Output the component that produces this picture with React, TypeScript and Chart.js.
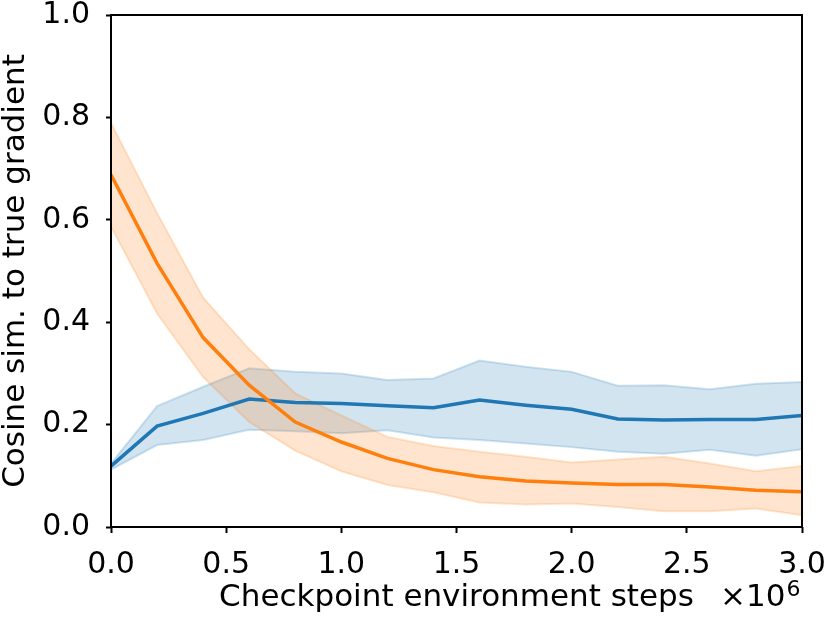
import React, { useEffect, useRef } from "react";
import { Chart, registerables } from "chart.js";

Chart.register(...registerables);

// checkpoint steps, in units of 1e6
const steps = [0, 0.2, 0.4, 0.6, 0.8, 1.0, 1.2, 1.4, 1.6, 1.8, 2.0, 2.2, 2.4, 2.6, 2.8, 3.0];

const blueMean = [0.119, 0.197, 0.222, 0.25, 0.243, 0.241, 0.237, 0.233, 0.248, 0.238, 0.23, 0.211, 0.209, 0.21, 0.21, 0.218];
const blueUpper = [0.124, 0.236, 0.274, 0.31, 0.303, 0.3, 0.287, 0.29, 0.325, 0.313, 0.303, 0.276, 0.277, 0.269, 0.28, 0.283];
const blueLower = [0.112, 0.16, 0.17, 0.19, 0.187, 0.183, 0.189, 0.175, 0.17, 0.163, 0.156, 0.147, 0.143, 0.151, 0.139, 0.152];

const orangeMean = [0.688, 0.515, 0.37, 0.277, 0.205, 0.166, 0.134, 0.112, 0.098, 0.09, 0.086, 0.083, 0.083, 0.078, 0.072, 0.069];
const orangeUpper = [0.789, 0.613, 0.448, 0.347, 0.261, 0.218, 0.176, 0.158, 0.147, 0.137, 0.126, 0.132, 0.137, 0.124, 0.109, 0.119];
const orangeLower = [0.587, 0.417, 0.293, 0.205, 0.149, 0.109, 0.082, 0.068, 0.048, 0.044, 0.046, 0.039, 0.031, 0.031, 0.036, 0.023];

const yTicks = [0, 0.2, 0.4, 0.6, 0.8, 1.0];

const FONT = "'DejaVu Sans', sans-serif";
const SIZE = 30;
const TITLE_SIZE = 31;
const BLUE = "#1f77b4";
const ORANGE = "#ff7f0e";
const BLUE_BAND = "rgba(31, 119, 180, 0.2)";
const ORANGE_BAND = "rgba(255, 127, 14, 0.2)";

const pts = (ys) => steps.map((x, i) => ({ x, y: ys[i] }));

// full box around the plot + the x10^6 offset text
const framePlugin = {
  id: "frame",
  afterDraw(chart) {
    const { ctx, chartArea } = chart;
    ctx.save();
    ctx.strokeStyle = "#000";
    ctx.lineWidth = 2;
    ctx.strokeRect(chartArea.left, chartArea.top, chartArea.right - chartArea.left, chartArea.bottom - chartArea.top);

    ctx.fillStyle = "#000";
    ctx.textAlign = "left";
    ctx.textBaseline = "alphabetic";
    ctx.font = `${TITLE_SIZE}px ${FONT}`;
    const base = "\u00d710";
    const x0 = 720;
    ctx.fillText(base, x0, 606);
    const w = ctx.measureText(base).width;
    ctx.font = `22px ${FONT}`;
    ctx.fillText("6", x0 + w + 1, 596);
    ctx.restore();
  },
};

const App = () => {
  const chartRef = useRef(null);
  const chartInstance = useRef(null);

  useEffect(() => {
    document.body.style.margin = "0";

    if (chartInstance.current) {
      chartInstance.current.destroy();
    }

    const band = (data, color, fill, order) => ({
      data: pts(data),
      borderColor: color,
      backgroundColor: color,
      borderWidth: 2,
      pointRadius: 0,
      tension: 0,
      fill,
      order,
    });

    const datasets = [
      band(blueUpper, BLUE_BAND, false, 3),
      band(blueLower, BLUE_BAND, "-1", 3),
      band(orangeUpper, ORANGE_BAND, false, 2),
      band(orangeLower, ORANGE_BAND, "-1", 2),
      {
        data: pts(blueMean),
        borderColor: BLUE,
        borderWidth: 3.5,
        pointRadius: 0,
        tension: 0,
        fill: false,
        order: 1,
      },
      {
        data: pts(orangeMean),
        borderColor: ORANGE,
        borderWidth: 3.5,
        pointRadius: 0,
        tension: 0,
        fill: false,
        order: 0,
      },
    ];

    const ctx = chartRef.current.getContext("2d");
    chartInstance.current = new Chart(ctx, {
      type: "line",
      data: { datasets },
      plugins: [framePlugin],
      options: {
        responsive: false,
        animation: false,
        layout: { padding: { top: 15, right: 28, left: 0, bottom: 0 } },
        plugins: {
          legend: { display: false },
          tooltip: { enabled: false },
        },
        scales: {
          x: {
            type: "linear",
            min: 0,
            max: 3,
            border: { display: false },
            grid: {
              drawOnChartArea: false,
              drawTicks: true,
              tickLength: 6,
              tickWidth: 2,
              tickColor: "#000",
            },
            ticks: {
              stepSize: 0.5,
              color: "#000",
              padding: 14,
              maxRotation: 0,
              font: { family: FONT, size: SIZE },
              callback: (v) => Number(v).toFixed(1),
            },
            title: {
              display: true,
              text: "Checkpoint environment steps",
              color: "#000",
              font: { family: FONT, size: TITLE_SIZE, lineHeight: 1 },
              padding: { top: 0, bottom: 10 },
            },
            afterFit: (s) => {
              s.height = 96;
              s.paddingLeft = 0;
              s.paddingRight = 0;
            },
          },
          y: {
            min: 0,
            max: 1,
            border: { display: false },
            grid: {
              drawOnChartArea: false,
              drawTicks: true,
              tickLength: 5,
              tickWidth: 2,
              tickColor: "#000",
            },
            afterBuildTicks: (s) => {
              s.ticks = yTicks.map((value) => ({ value }));
            },
            ticks: {
              color: "#000",
              padding: 16,
              font: { family: FONT, size: SIZE },
              callback: (v) => Number(v).toFixed(1),
            },
            title: {
              display: true,
              text: "Cosine sim. to true gradient",
              color: "#000",
              font: { family: FONT, size: TITLE_SIZE, lineHeight: 1 },
              padding: { top: 0, bottom: 0 },
            },
            afterFit: (s) => {
              s.width = 111;
              s.paddingTop = 0;
              s.paddingBottom = 0;
            },
          },
        },
      },
    });

    return () => {
      if (chartInstance.current) {
        chartInstance.current.destroy();
        chartInstance.current = null;
      }
    };
  }, []);

  return <canvas ref={chartRef} width={830} height={623} />;
};

export default App;
